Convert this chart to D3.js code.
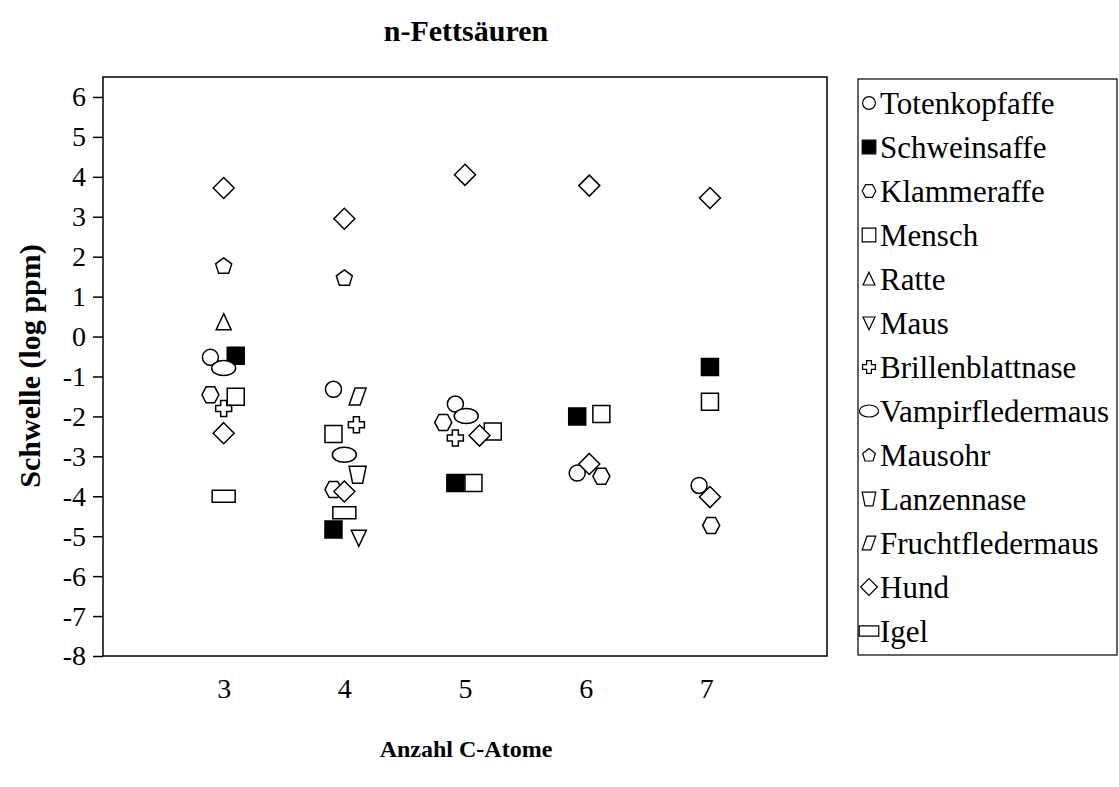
<!DOCTYPE html>
<html>
<head>
<meta charset="utf-8">
<script src="https://cdn.jsdelivr.net/npm/d3@7"></script>
<style>
  html, body { margin: 0; padding: 0; background: #fff; }
  svg { display: block; font-family: "Liberation Serif", "Times New Roman", serif; }
</style>
</head>
<body>
<svg id="chart" width="1119" height="787"></svg>
<script>
// Geruchsschwellen für n-Fettsäuren (log ppm) nach Kettenlänge
const xCategories = [3, 4, 5, 6, 7];
const yTicks = [-8, -7, -6, -5, -4, -3, -2, -1, 0, 1, 2, 3, 4, 5, 6];

const speciesNames = [
  "Totenkopfaffe", "Schweinsaffe", "Klammeraffe", "Mensch", "Ratte", "Maus",
  "Brillenblattnase", "Vampirfledermaus", "Mausohr", "Lanzennase",
  "Fruchtfledermaus", "Hund", "Igel"
];

// [C-Atome (leicht versetzt), Schwelle]
const totenkopfaffe    = [[2.89, -0.52], [3.91, -1.32], [4.92, -1.69], [5.93, -3.42], [6.94, -3.73]];
const schweinsaffe     = [[3.10, -0.48], [3.91, -4.83], [4.92, -3.67], [5.93, -2.00], [7.03, -0.76]];
const klammeraffe      = [[2.89, -1.46], [3.91, -3.83], [4.82, -2.15], [6.13, -3.50], [7.04, -4.73]];
const mensch           = [[3.10, -1.51], [3.91, -2.44], [5.07, -3.67], [5.23, -2.38], [6.13, -1.94], [7.03, -1.63]];
const ratte            = [[3.00, 0.36]];
const maus             = [[4.12, -5.04]];
const brillenblattnase = [[3.00, -1.80], [4.10, -2.21], [4.92, -2.54]];
const vampirfledermaus = [[3.00, -0.79], [4.00, -2.96], [5.01, -1.99]];
const mausohr          = [[3.00, 1.77], [4.00, 1.47]];
const lanzennase       = [[4.11, -3.46]];
const fruchtfledermaus = [[4.11, -1.50]];
const hund             = [[3.00, 3.72], [3.00, -2.42], [4.00, 2.95], [4.00, -3.88], [5.00, 4.05],
                          [5.12, -2.48], [6.03, 3.78], [6.03, -3.19], [7.03, 3.47], [7.03, -4.02]];
const igel             = [[3.00, -4.00], [4.00, -4.41]];

const seriesValues = [
  totenkopfaffe, schweinsaffe, klammeraffe, mensch, ratte, maus,
  brillenblattnase, vampirfledermaus, mausohr, lanzennase,
  fruchtfledermaus, hund, igel
];

// Markerform je Art
const markerKinds = [
  "circle", "squareFilled", "hexagon", "square", "triangleUp", "triangleDown",
  "cross", "ellipse", "pentagon", "trapezoid", "parallelogram", "diamond", "wideRect"
];

function markerPath(kind, s) {
  const p = d3.path();
  const poly = pts => {
    pts.forEach(([a, b], i) => i ? p.lineTo(a * s, b * s) : p.moveTo(a * s, b * s));
    p.closePath();
  };
  switch (kind) {
    case "circle":
      p.arc(0, 0, 8 * s, 0, 2 * Math.PI); p.closePath(); break;
    case "squareFilled":
    case "square":
      poly([[-8.5, -8.5], [8.5, -8.5], [8.5, 8.5], [-8.5, 8.5]]); break;
    case "hexagon":
      poly([[-8.5, 0], [-4.3, -8], [4.3, -8], [8.5, 0], [4.3, 8], [-4.3, 8]]); break;
    case "triangleUp":
      poly([[0, -8.5], [7.5, 7.5], [-7.5, 7.5]]); break;
    case "triangleDown":
      poly([[-7.5, -7.5], [7.5, -7.5], [0, 8.5]]); break;
    case "cross":
      poly([[-3, -8], [3, -8], [3, -3], [8, -3], [8, 3], [3, 3], [3, 8], [-3, 8],
            [-3, 3], [-8, 3], [-8, -3], [-3, -3]]); break;
    case "ellipse": {
      const rx = 12 * s, ry = 7.5 * s;
      p.moveTo(-rx, 0);
      p.bezierCurveTo(-rx, -ry * 0.552, -rx * 0.552, -ry, 0, -ry);
      p.bezierCurveTo(rx * 0.552, -ry, rx, -ry * 0.552, rx, 0);
      p.bezierCurveTo(rx, ry * 0.552, rx * 0.552, ry, 0, ry);
      p.bezierCurveTo(-rx * 0.552, ry, -rx, ry * 0.552, -rx, 0);
      p.closePath(); break;
    }
    case "pentagon":
      poly([[0, -8], [8, -2], [5, 7.5], [-5, 7.5], [-8, -2]]); break;
    case "trapezoid":
      poly([[-8.5, -8.5], [8.5, -8.5], [5, 8.5], [-5, 8.5]]); break;
    case "parallelogram":
      poly([[-2.5, -8.5], [8.5, -8.5], [2.5, 8.5], [-8.5, 8.5]]); break;
    case "diamond":
      poly([[0, -10.5], [10.5, 0], [0, 10.5], [-10.5, 0]]); break;
    case "wideRect":
      poly([[-11.5, -6], [11.5, -6], [11.5, 6], [-11.5, 6]]); break;
  }
  return p.toString();
}

const svg = d3.select("#chart");
const frame = { left: 103, top: 77, right: 827, bottom: 656 };

const x = d3.scaleLinear().domain([2, 8]).range([frame.left, frame.right]);
const y = d3.scaleLinear().domain([-8, 6.5]).range([frame.bottom, frame.top]);

// Titel
svg.append("text")
  .attr("x", 466).attr("y", 41)
  .attr("text-anchor", "middle")
  .attr("font-size", 30).attr("font-weight", "bold")
  .text("n-Fettsäuren");

// Diagrammrahmen
svg.append("rect")
  .attr("x", frame.left).attr("y", frame.top)
  .attr("width", frame.right - frame.left).attr("height", frame.bottom - frame.top)
  .attr("fill", "#fff").attr("stroke", "#000").attr("stroke-width", 1.5);

// y-Achse
const yAxis = svg.append("g")
  .attr("transform", `translate(${frame.left},0)`)
  .call(d3.axisLeft(y).tickValues(yTicks).tickSize(10).tickPadding(7).tickFormat(d => String(d)));
yAxis.select(".domain").remove();
yAxis.selectAll(".tick line").attr("stroke", "#000").attr("stroke-width", 1.5);
yAxis.selectAll(".tick text")
  .attr("font-family", "Liberation Serif, Times New Roman, serif")
  .attr("font-size", 28).attr("fill", "#000");

// x-Achse (nur Beschriftung)
const xAxis = svg.append("g")
  .attr("transform", `translate(0,${frame.bottom})`)
  .call(d3.axisBottom(x).tickValues(xCategories).tickSize(0).tickPadding(22).tickFormat(d => String(d)));
xAxis.select(".domain").remove();
xAxis.selectAll(".tick text")
  .attr("font-family", "Liberation Serif, Times New Roman, serif")
  .attr("font-size", 28).attr("fill", "#000");

// Achsentitel
svg.append("text")
  .attr("x", 466).attr("y", 757)
  .attr("text-anchor", "middle")
  .attr("font-size", 24).attr("font-weight", "bold")
  .text("Anzahl C-Atome");

svg.append("text")
  .attr("transform", "translate(40,366) rotate(-90)")
  .attr("text-anchor", "middle")
  .attr("font-size", 30).attr("font-weight", "bold")
  .text("Schwelle (log ppm)");

// Messpunkte
const pointsLayer = svg.append("g");
seriesValues.forEach((pts, i) => {
  const kind = markerKinds[i];
  pointsLayer.append("g")
    .selectAll("path")
    .data(pts)
    .join("path")
    .attr("transform", d => `translate(${x(d[0])},${y(d[1])})`)
    .attr("d", markerPath(kind, 1))
    .attr("fill", kind === "squareFilled" ? "#000" : "#fff")
    .attr("stroke", "#000")
    .attr("stroke-width", 1.5)
    .attr("stroke-linejoin", "miter");
});

// Legende
const legend = { left: 858, top: 79, right: 1117, bottom: 655, first: 103, step: 44 };
svg.append("rect")
  .attr("x", legend.left).attr("y", legend.top)
  .attr("width", legend.right - legend.left).attr("height", legend.bottom - legend.top)
  .attr("fill", "#fff").attr("stroke", "#000").attr("stroke-width", 1.2);

const items = svg.append("g").selectAll("g")
  .data(speciesNames)
  .join("g")
  .attr("transform", (d, i) => `translate(${legend.left + 11},${legend.first + i * legend.step})`);

items.append("path")
  .attr("d", (d, i) => markerPath(markerKinds[i], markerKinds[i] === "wideRect" ? 0.85 : 0.8))
  .attr("fill", (d, i) => markerKinds[i] === "squareFilled" ? "#000" : "#fff")
  .attr("stroke", "#000")
  .attr("stroke-width", 1.2);

items.append("text")
  .attr("x", 11)
  .attr("dy", "0.35em")
  .attr("font-size", 31)
  .text(d => d);
</script>
</body>
</html>
